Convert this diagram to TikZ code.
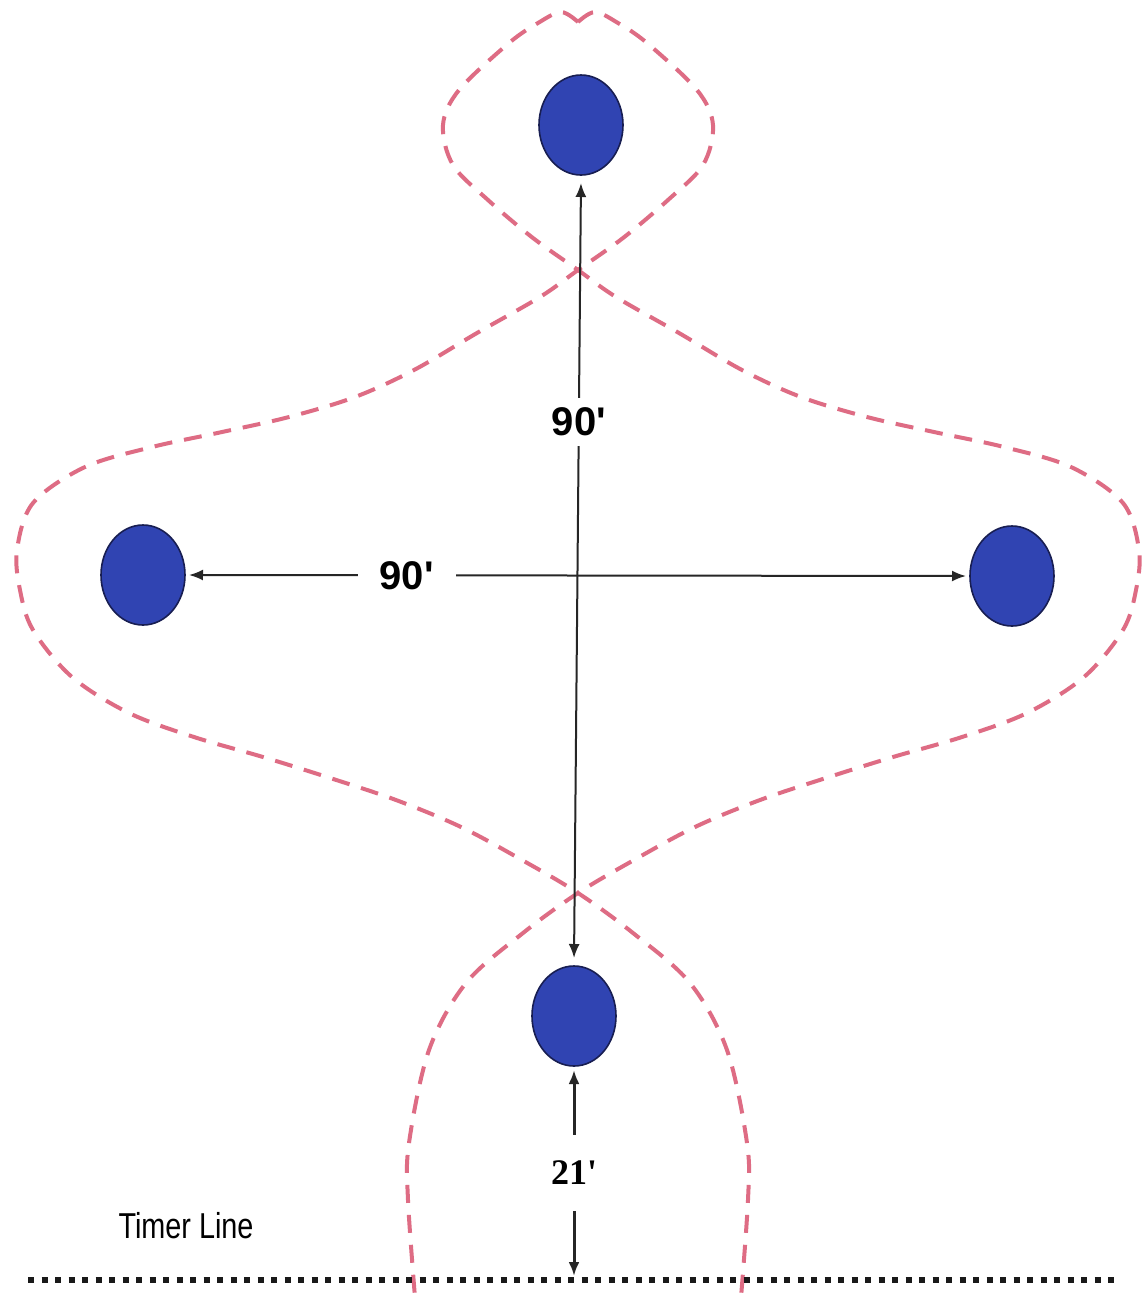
\documentclass[tikz,border=0pt]{standalone}
\usepackage{fontspec}
\setmainfont{Liberation Sans}
\newfontfamily\dimfont{Liberation Sans}
\newfontfamily\gapfont{Liberation Serif}
\newfontfamily\linefont[FakeStretch=0.8]{Liberation Sans}
\usetikzlibrary{arrows.meta,shapes.geometric}
\definecolor{barrelblue}{RGB}{48,68,178}
\definecolor{barrelrim}{RGB}{24,30,82}
\definecolor{pathred}{RGB}{222,108,132}

\begin{document}
\begin{tikzpicture}[x=0.5pt,y=-0.5pt,
  >={Latex[length=7pt,width=5.5pt]},
  barrel/.style={ellipse,draw=barrelrim,fill=barrelblue,line width=0.8pt,
                 minimum width=42pt,minimum height=50pt,inner sep=0pt,outer sep=2pt},
  dim/.style={draw=black!85,line width=1pt},
  lbl/.style={fill=white,inner sep=5pt,
              font=\dimfont\bfseries\fontsize{20pt}{24pt}\selectfont},
  route/.style={draw=pathred,line width=2pt,dash pattern=on 9pt off 6pt},
  timer/.style={draw=black!90,line width=3pt,dash pattern=on 3pt off 3.75pt}]
\path[use as bounding box,fill=white] (0,0) rectangle (1145,1298);
\clip (0,0) rectangle (1145,1298);
% barrels
\node[barrel] (brT) at (581,125) {};
\node[barrel] (brL) at (143,575) {};
\node[barrel] (brR) at (1012,576) {};
\node[barrel] (brB) at (574,1016) {};
% cloverleaf pattern, drawn once and mirrored
\foreach \s in {1,-1}
  \draw[route,shift={(578,0)},xscale=\s] plot[smooth,tension=0.55] coordinates {
    (0,22) (17,12) (40,23) (69,43) (119,90) (135,125) (125,165) (90,200)
    (45,238) (0,270) (-38,297) (-101,333) (-164,370) (-223,397) (-289,417)
    (-356,432) (-426,447) (-493,467) (-545,503) (-561,550) (-558,590)
    (-545,630) (-506,677) (-449,713) (-384,737) (-315,757) (-251,777)
    (-182,800) (-117,827) (-56,860) (0,893) (55,933) (112,983) (149,1050)
    (169,1143) (170,1200) (162,1310)};
% distances
\draw[dim,<->,shorten <=2pt,shorten >=2pt] (brT.south) --
  node[lbl,pos=0.31] {90\textquotesingle} (brB.north);
\draw[dim,<->] (brL.east) --
  node[lbl,pos=0.28,inner xsep=11pt] {90\textquotesingle} (brR.west);
\coordinate (tl) at (574,1276);
\draw[dim,line width=1.5pt,<->] (brB.south) --
  node[lbl,inner ysep=13pt,font=\gapfont\bfseries\fontsize{18pt}{22pt}\selectfont]
  {21\textquotesingle} (tl);
% timer line
\coordinate (tlW) at (28,1280);
\coordinate (tlE) at (1115,1280);
\draw[timer] (tlW) -- (tlE);
\node[font=\linefont\fontsize{18pt}{22pt}\selectfont] (tlname) at (186,1226)
  {Timer Line};
\end{tikzpicture}
\end{document}
